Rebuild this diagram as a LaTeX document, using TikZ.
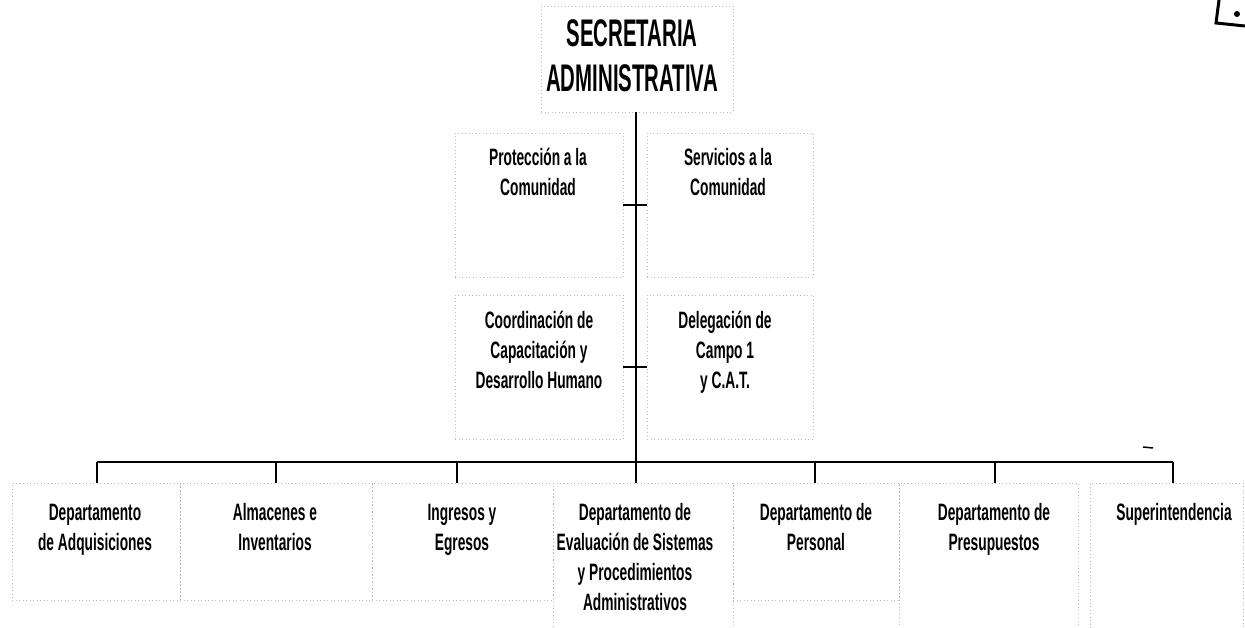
\documentclass[tikz,border=0pt]{standalone}
\usepackage{fontspec}
\setmainfont{Liberation Sans}[FakeStretch=0.58]
\newfontfamily\titlefont{Liberation Sans}[FakeStretch=0.53]
\begin{document}
\begin{tikzpicture}[x=1pt,y=-1pt,
  box/.style={draw=gray!55, dash pattern=on 1pt off 2.5pt, line width=0.7pt, inner sep=0pt, rectangle},
  conn/.style={draw=black, line width=1.5pt},
  lbl/.style={font=\fontsize{23.7}{30}\selectfont\bfseries, align=center, inner sep=0pt, anchor=base},
  big/.style={font=\titlefont\fontsize{38.5}{45}\selectfont\bfseries, align=center, inner sep=0pt, anchor=base}]
\useasboundingbox (0,0) rectangle (1245,628);
% boxes
\node[box, minimum width=192pt, minimum height=106pt] (title) at (637,59) {};
\node[box, minimum width=168pt, minimum height=144pt] (prot) at (539,205) {};
\node[box, minimum width=166pt, minimum height=144pt] (serv) at (730,205) {};
\node[box, minimum width=168pt, minimum height=144pt] (coord) at (539,367) {};
\node[box, minimum width=166pt, minimum height=144pt] (deleg) at (730,367) {};
\node[box, minimum width=168pt, minimum height=117pt] (d1) at (96,541.5) {};
\node[box, minimum width=192pt, minimum height=117pt] (d2) at (276,541.5) {};
\node[box, minimum width=181pt, minimum height=117pt] (d3) at (462.5,541.5) {};
\node[box, minimum width=180pt, minimum height=145pt] (d4) at (643,555.5) {};
\node[box, minimum width=166pt, minimum height=117pt] (d5) at (816,541.5) {};
\node[box, minimum width=179pt, minimum height=145pt] (d6) at (988.5,555.5) {};
\node[box, minimum width=153pt, minimum height=145pt] (d7) at (1166.5,555.5) {};
% texts (anchor base = baseline of the last line)
\node[big] (ttitle) at (632,92) {SECRETARIA\\ADMINISTRATIVA};
\node[lbl] (tprot) at (538,196) {Protección a la\\Comunidad};
\node[lbl] (tserv) at (728,196) {Servicios a la\\Comunidad};
\node[lbl] (tcoord) at (539,388) {Coordinación de\\Capacitación y\\Desarrollo Humano};
\node[lbl] (tdeleg) at (725,388) {Delegación de\\Campo 1\\y C.A.T.};
\node[lbl] (t1) at (95,550) {Departamento\\de Adquisiciones};
\node[lbl] (t2) at (275,550) {Almacenes e\\Inventarios};
\node[lbl] (t3) at (462,550) {Ingresos y\\Egresos};
\node[lbl] (t4) at (635,610) {Departamento de\\Evaluación de Sistemas\\y Procedimientos\\Administrativos};
\node[lbl] (t5) at (816,550) {Departamento de\\Personal};
\node[lbl] (t6) at (994,550) {Departamento de\\Presupuestos};
\node[lbl] (t7) at (1174,520) {Superintendencia};
% bus coordinates
\coordinate (b0) at (636,462);
\coordinate (b1) at (97,462);
\coordinate (b2) at (276,462);
\coordinate (b3) at (457,462);
\coordinate (b5) at (815,462);
\coordinate (b6) at (995,462);
\coordinate (b7) at (1173,462);
% connectors
\draw[conn] (title.south -| b0) -- (b0);
\draw[conn] (prot.east) -- (serv.west);
\draw[conn] (coord.east) -- (deleg.west);
\draw[conn] (b1) -- (b7);
\draw[conn] (b1) -- (b1 |- d1.north);
\draw[conn] (b2) -- (b2 |- d2.north);
\draw[conn] (b3) -- (b3 |- d3.north);
\draw[conn] (b0) -- (b0 |- d4.north);
\draw[conn] (b5) -- (b5 |- d5.north);
\draw[conn] (b6) -- (b6 |- d6.north);
\draw[conn] (b7) -- (b7 |- d7.north);
% scan marks
\draw[line width=3pt] (1219,0) -- (1216,23) -- (1245,26);
\fill (1237,14) circle (3pt);
\draw[line width=1.5pt] (1143,447) -- (1153,448);
\end{tikzpicture}
\end{document}
